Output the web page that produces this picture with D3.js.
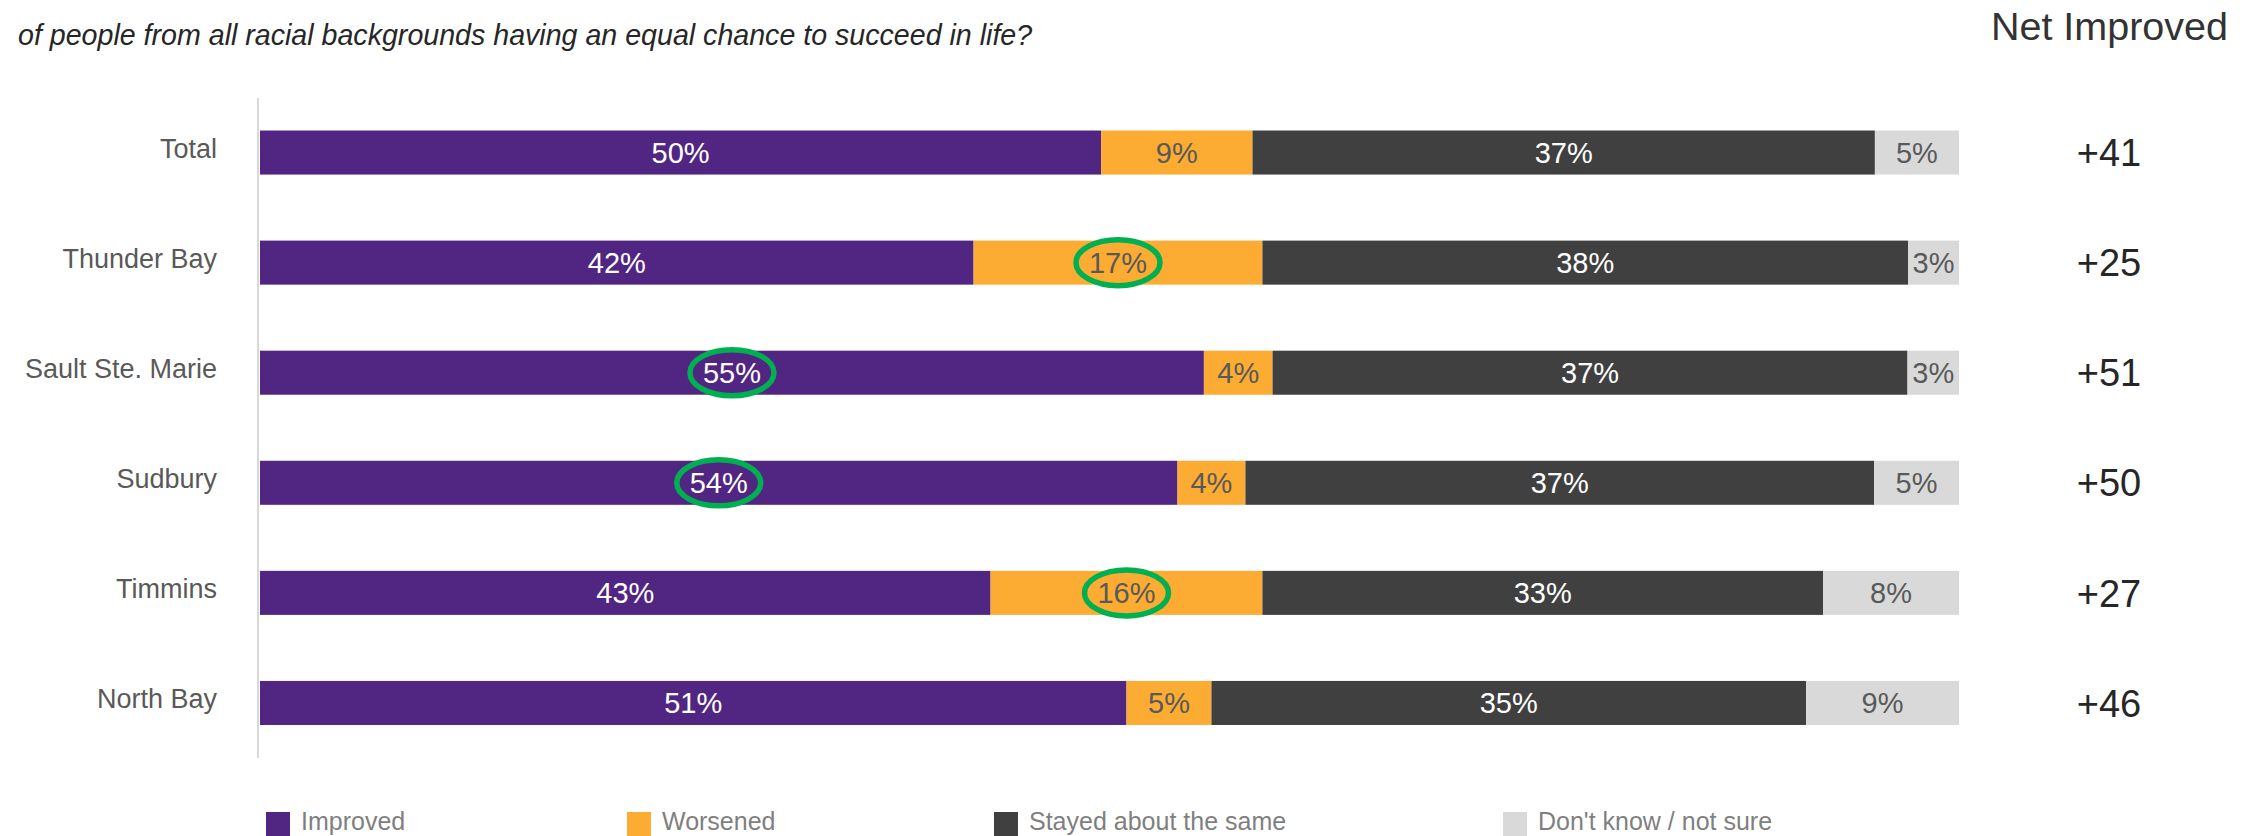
<!DOCTYPE html>
<html>
<head>
<meta charset="utf-8">
<script src="https://cdn.jsdelivr.net/npm/d3@7/dist/d3.min.js"></script>
<style>
  html, body { margin: 0; padding: 0; background: #fff; }
  svg { display: block; font-family: "Liberation Sans", Arial, sans-serif; }
</style>
</head>
<body>
<svg id="chart" width="2259" height="836"></svg>
<script>
// Survey results by community
const categories = ["Total", "Thunder Bay", "Sault Ste. Marie", "Sudbury", "Timmins", "North Bay"];
const seriesNames = ["Improved", "Worsened", "Stayed about the same", "Don't know / not sure"];
const improved  = [50, 42, 55, 54, 43, 51];
const worsened  = [9, 17, 4, 4, 16, 5];
const stayed    = [37, 38, 37, 37, 33, 35];
const dontKnow  = [5, 3, 3, 5, 8, 9];
// labels circled for emphasis: [category, series]
const highlighted = [["Thunder Bay", "Worsened"], ["Sault Ste. Marie", "Improved"], ["Sudbury", "Improved"], ["Timmins", "Worsened"]];

const subtitle = "of people from all racial backgrounds having an equal chance to succeed in life?";
const netHeader = "Net Improved";

const colors = ["#512682", "#fcab33", "#404040", "#d9d9d9"];
const labelColors = ["#ffffff", "#595959", "#ffffff", "#595959"];

const svg = d3.select("#chart");

// layout
const plotLeft = 260, plotRight = 1959;
const y = d3.scaleBand().domain(categories).range([97.5, 758]).paddingInner(0.6).paddingOuter(0.3);

const values = [improved, worsened, stayed, dontKnow];
const rows = categories.map((c, i) => {
  const v = values.map(s => s[i]);
  const total = d3.sum(v);
  const x = d3.scaleLinear().domain([0, total]).range([plotLeft, plotRight]);
  let acc = 0;
  const segs = v.map((val, k) => {
    const s = { cat: c, series: seriesNames[k], k, value: val, x0: x(acc), x1: x(acc + val) };
    acc += val;
    return s;
  });
  return { cat: c, segs, net: v[0] - v[1] };
});

// subtitle (question text)
svg.append("text")
  .attr("x", 18).attr("y", 45)
  .attr("font-size", 28.6).attr("font-style", "italic")
  .attr("fill", "#262626")
  .text(subtitle);

// net improved header
svg.append("text")
  .attr("x", 2228).attr("y", 40)
  .attr("text-anchor", "end")
  .attr("font-size", 39.5).attr("fill", "#333333")
  .text(netHeader);

// category axis line
svg.append("line")
  .attr("x1", 258).attr("x2", 258)
  .attr("y1", 98).attr("y2", 758)
  .attr("stroke", "#d9d9d9").attr("stroke-width", 2);

// category labels
svg.append("g").selectAll("text")
  .data(categories).join("text")
  .attr("x", 217)
  .attr("y", d => y(d) + y.bandwidth() / 2 + 5)
  .attr("text-anchor", "end")
  .attr("font-size", 27)
  .attr("fill", "#595959")
  .text(d => d);

const rowG = svg.append("g").selectAll("g")
  .data(rows).join("g");

// bar segments
rowG.selectAll("rect")
  .data(d => d.segs).join("rect")
  .attr("x", d => d.x0)
  .attr("width", d => d.x1 - d.x0)
  .attr("y", d => y(d.cat))
  .attr("height", y.bandwidth())
  .attr("fill", d => colors[d.k]);

// segment value labels
rowG.selectAll("text.val")
  .data(d => d.segs).join("text")
  .attr("class", "val")
  .attr("x", d => (d.x0 + d.x1) / 2)
  .attr("y", d => y(d.cat) + y.bandwidth() / 2)
  .attr("dy", "0.36em")
  .attr("text-anchor", "middle")
  .attr("font-size", 29)
  .attr("fill", d => labelColors[d.k])
  .text(d => d.value + "%");

// emphasis ellipses around selected labels
const hiSegs = rows.flatMap(r => r.segs).filter(s => highlighted.some(h => h[0] === s.cat && h[1] === s.series));
svg.append("g").selectAll("ellipse")
  .data(hiSegs).join("ellipse")
  .attr("cx", d => (d.x0 + d.x1) / 2)
  .attr("cy", d => y(d.cat) + y.bandwidth() / 2)
  .attr("rx", 42).attr("ry", 23)
  .attr("fill", "none")
  .attr("stroke", "#00b050")
  .attr("stroke-width", 5.5);

// net improved values
svg.append("g").selectAll("text")
  .data(rows).join("text")
  .attr("x", 2109)
  .attr("y", d => y(d.cat) + y.bandwidth() / 2)
  .attr("dy", "0.36em")
  .attr("text-anchor", "middle")
  .attr("font-size", 38)
  .attr("fill", "#262626")
  .text(d => (d.net >= 0 ? "+" : "") + d.net);

// legend
const legendX = [266, 627, 994, 1503];
const lg = svg.append("g").selectAll("g")
  .data(seriesNames).join("g")
  .attr("transform", (d, i) => `translate(${legendX[i]},812)`);
lg.append("rect")
  .attr("width", 24).attr("height", 24)
  .attr("fill", (d, i) => colors[i]);
lg.append("text")
  .attr("x", 35).attr("y", 18)
  .attr("font-size", 25)
  .attr("fill", "#7f7f7f")
  .text(d => d);
</script>
</body>
</html>
